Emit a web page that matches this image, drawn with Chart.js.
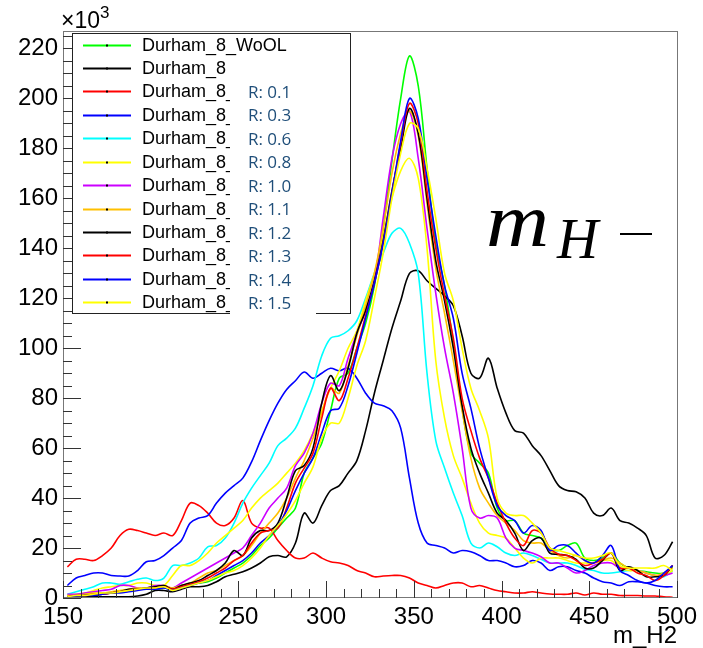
<!DOCTYPE html>
<html>
<head>
<meta charset="utf-8">
<script src="https://cdn.jsdelivr.net/npm/chart.js@4.4.0/dist/chart.umd.min.js"></script>
<style>
  html, body { margin: 0; padding: 0; background: #fff; }
  #wrap { width: 703px; height: 648px; }
</style>
</head>
<body>
<div id="wrap"><canvas id="chart" width="703" height="648"></canvas></div>
<script>
// bin centres of m_H2
const xBins = [152.5, 157.5, 162.5, 167.5, 172.5, 177.5, 182.5, 187.5, 192.5, 197.5,
  202.5, 207.5, 212.5, 217.5, 222.5, 227.5, 232.5, 237.5, 242.5, 247.5,
  252.5, 257.5, 262.5, 267.5, 272.5, 277.5, 282.5, 287.5, 292.5, 297.5,
  302.5, 307.5, 312.5, 317.5, 322.5, 327.5, 332.5, 337.5, 342.5, 347.5,
  352.5, 357.5, 362.5, 367.5, 372.5, 377.5, 382.5, 387.5, 392.5, 397.5,
  402.5, 407.5, 412.5, 417.5, 422.5, 427.5, 432.5, 437.5, 442.5, 447.5,
  452.5, 457.5, 462.5, 467.5, 472.5, 477.5, 482.5, 487.5, 492.5, 497.5];

const xTicks = [150, 200, 250, 300, 350, 400, 450, 500];
const yTicks = [0, 20, 40, 60, 80, 100, 120, 140, 160, 180, 200, 220];

const seriesNames = ["Durham_8_WoOL", "Durham_8", "Durham_8_", "Durham_8_", "Durham_8_", "Durham_8_",
  "Durham_8_", "Durham_8_", "Durham_8_", "Durham_8_", "Durham_8_", "Durham_8_"];
const seriesR = ["", "", "R: 0.1", "R: 0.3", "R: 0.6", "R: 0.8", "R: 1.0", "R: 1.1", "R: 1.2", "R: 1.3", "R: 1.4", "R: 1.5"];
const seriesColors = ["#00ff00", "#000000", "#ff0000", "#0000ff", "#00ffff", "#ffff00",
  "#cc00ff", "#ffc000", "#000000", "#ff0000", "#0000ff", "#ffff00"];

// values in units of 10^3
const wool = [1, 1, 1.5, 1.5, 2, 2, 2.5, 3, 3.5, 3.5,
  3.5, 4, 4, 5, 5.5, 6, 6.5, 8, 10, 12,
  14, 17, 21, 24, 28, 32, 36, 50, 56, 62,
  75, 88, 90, 100, 110, 125, 148, 175, 200, 217,
  205, 172, 142, 125, 102, 76, 58, 54, 50, 36,
  31, 31, 26, 25, 24, 20, 19, 21, 22, 16,
  15, 16, 18, 14, 12, 11, 10.5, 10, 10, 12.5];
const d8 = [0.5, 0.5, 0.5, 0.5, 0.5, 0.5, 0.5, 0.5, 0.8, 1.5,
  3, 3, 2.5, 3.5, 4.5, 4.5, 5, 6.5, 8.5, 9.5,
  10.5, 12, 14, 16.5, 17, 16.5, 22, 34, 30, 37,
  43, 45, 50, 55, 67, 82, 95, 108, 119, 130,
  131, 127, 124, 121, 117, 105, 90, 88, 96, 84,
  74, 67, 66, 61, 57, 51, 45, 43, 42.5, 40,
  34, 33, 36, 31, 30, 28, 25, 16, 17, 22.5];
const r01 = [12.5, 15.5, 15.5, 15, 17, 20, 25, 27.5, 27, 26,
  25, 26, 25, 31, 38, 37, 34, 30, 29, 32,
  39, 30, 28, 28, 23, 19, 16, 16, 18, 16,
  14.5, 14, 13, 11, 10, 8.5, 8.8, 9, 9, 8,
  6, 5, 4, 5, 6, 6, 4.5, 5, 4, 3,
  2.5, 2, 2, 2.5, 2, 1.6, 1.5, 1.5, 2, 1.2,
  2, 1.5, 1.5, 1, 1, 1, 0.8, 0.8, 0.5, 0.3];
const r03 = [5, 8, 9, 10, 10, 9, 8.8, 8.8, 11, 14.5,
  15, 17, 20, 23, 30, 32, 33, 38, 42, 45,
  48, 54.5, 63, 71, 78, 83.5, 87, 90.5, 88, 90,
  92, 91, 92, 88, 82, 78, 77, 75, 68, 48,
  30, 22, 21, 20, 18, 19, 18.5, 17, 15, 15,
  14, 12.5, 13, 15, 14, 11, 12.5, 12.5, 11, 10,
  8, 6.5, 6, 5, 6.5, 6.5, 6, 5, 4.5, 4.5];
const r06 = [1.5, 2.5, 3.5, 4.5, 6, 6, 5.5, 6.5, 7.5, 8,
  7, 8, 13, 13, 14, 16, 20.5, 21, 24, 30,
  38, 44, 49, 54, 61, 64, 68, 76, 85, 97,
  104, 105, 107, 111, 120, 130, 138, 146, 148, 142,
  130, 90, 63, 52, 42, 33, 22, 20, 22, 20.5,
  18, 17, 18, 17, 15.5, 14, 14, 14, 13, 11.5,
  11, 10, 10, 10.5, 11, 11, 10, 9, 8.5, 11];
const r08 = [1, 1.5, 2, 3, 4, 4.5, 5, 5, 6, 6,
  5, 5, 9, 13, 13, 15, 18, 22, 25, 28,
  31, 36, 40, 43, 46, 50, 54, 59, 66, 75,
  84, 91, 100, 107, 119, 130, 145, 160, 171, 176,
  168, 140, 95, 72, 57, 48, 38, 30, 26, 25,
  24, 20, 16, 14, 16, 16, 16, 15, 14, 14,
  14, 15, 15, 12, 11, 11, 10, 9, 9, 11];
const r10 = [1.5, 1.5, 2, 2.5, 3, 3.5, 5, 5, 4, 4,
  5, 5, 4, 6, 8, 10, 12, 14, 16, 18,
  20, 25, 30, 36, 40, 44, 53, 58, 66, 78,
  86, 85, 96, 106, 115, 127, 152, 176, 190, 195,
  176, 148, 122, 100, 82, 60, 36, 32, 33, 32,
  24, 20, 19, 18, 16.5, 14, 14, 12, 10, 11,
  13, 14, 14, 12, 12, 11, 10, 9, 9, 10];
const r11 = [1, 1, 1.5, 2, 2, 2.5, 3, 3.5, 4, 4,
  4.5, 5, 4, 5, 6, 8, 10, 11, 13, 15,
  17, 21, 26, 30, 34, 40, 48, 55, 64, 74,
  84, 82, 93, 105, 117, 130, 148, 170, 186, 195,
  185, 158, 132, 114, 95, 75, 56, 44, 38, 33,
  30, 27, 23, 22, 22, 19, 17, 16, 17, 15,
  14, 15, 16, 14, 12, 11, 10, 9, 10, 12];
const r12 = [0.5, 0.8, 1, 1, 1.5, 2, 2.5, 3.5, 3.5, 4,
  4.5, 5, 3.5, 5, 6, 7, 9, 11, 14, 19,
  17, 24, 27, 27, 30, 40, 51, 53, 60, 78,
  89, 83, 92, 106, 115, 127, 143, 163, 180, 196,
  186, 160, 135, 119, 100, 77, 60, 50, 42, 34,
  31, 26, 19, 23, 24, 18, 17.5, 17, 15.5, 12,
  12, 15, 18, 11, 12.5, 11, 8.5, 8.5, 9, 13];
const r13 = [0.5, 1, 1, 1.5, 1.5, 2, 2.5, 3, 3.5, 3.5,
  4, 4.5, 3.5, 4.5, 5.5, 6.5, 8, 10, 12, 15,
  17, 22, 26, 27, 28, 36, 46, 52, 58, 72,
  84, 79, 88, 100, 113, 126, 142, 162, 182, 198,
  190, 163, 140, 121, 104, 80, 67, 56, 48, 38,
  30, 24, 21, 27, 26, 20, 17.5, 17, 15, 13,
  14, 15.5, 18, 12, 12, 10, 9, 7, 9, 13];
const r14 = [0.5, 0.8, 1, 1, 1.5, 2, 2, 2.5, 3, 3.5,
  3.5, 4, 3, 4, 5, 6, 7, 9, 11, 13,
  15, 18, 22, 25, 29, 35, 43, 50, 56, 66,
  75, 76, 85, 98, 112, 126, 142, 162, 183, 200,
  192, 168, 145, 125, 112, 90, 76, 60, 48, 37,
  33, 31, 26, 29, 27, 19, 21, 21, 18, 15,
  14, 17, 21, 11, 9, 7, 6, 7, 10, 13];
const r15 = [0.5, 1, 1, 1.5, 2, 2, 2.5, 3, 3.5, 4,
  4, 4.5, 3, 4, 5, 6, 7, 8.5, 10, 11,
  13, 16, 20, 25, 29, 33.5, 39, 46, 52.5, 64,
  70, 70, 80, 93, 103, 120, 138, 160, 178, 190,
  188, 172, 152, 130, 119, 100, 84, 75, 64, 40,
  34, 33, 33, 30, 26, 20, 19, 18, 17, 16,
  16, 17, 18, 13, 12, 12, 12, 12, 13, 11];

const seriesValues = [wool, d8, r01, r03, r06, r08, r10, r11, r12, r13, r14, r15];

Chart.defaults.font.family = "'Liberation Sans', Arial, sans-serif";

const datasets = seriesValues.map(function (vals, i) {
  return {
    label: seriesNames[i] + (seriesR[i] ? " " + seriesR[i] : ""),
    data: xBins.map(function (x, k) { return { x: x, y: vals[k] }; }),
    borderColor: seriesColors[i],
    borderWidth: 1.6,
    pointRadius: 0,
    tension: 0.35,
    fill: false,
    order: seriesValues.length - i
  };
});

// ROOT-like frame, inward ticks, legend and labels
const rootDecor = {
  id: "rootDecor",
  afterDraw: function (chart) {
    const ctx = chart.ctx;
    const a = chart.chartArea;
    const xs = chart.scales.x, ys = chart.scales.y;
    ctx.save();

    // frame
    ctx.strokeStyle = "#777";
    ctx.lineWidth = 1;
    ctx.strokeRect(Math.round(a.left) + 0.5, Math.round(a.top) - 0.5,
      Math.round(a.right - a.left), Math.round(a.bottom - a.top));

    // ticks
    ctx.strokeStyle = "#333";
    ctx.beginPath();
    for (let v = 0; v <= 225; v += 5) {
      const py = Math.round(ys.getPixelForValue(v)) + 0.5;
      const len = v % 20 === 0 ? 18 : 9;
      ctx.moveTo(a.left, py); ctx.lineTo(a.left + len, py);
    }
    for (let v = 150; v <= 500; v += 10) {
      const px = Math.round(xs.getPixelForValue(v)) + 0.5;
      const len = v % 50 === 0 ? 17 : 9;
      ctx.moveTo(px, a.bottom); ctx.lineTo(px, a.bottom - len);
    }
    ctx.stroke();

    // x10^3
    ctx.fillStyle = "#000";
    ctx.textBaseline = "alphabetic";
    ctx.textAlign = "left";
    ctx.font = "23px 'Liberation Sans'";
    ctx.fillText("\u00d710", 61, 28);
    ctx.font = "17px 'Liberation Sans'";
    ctx.fillText("3", 100, 18);

    // axis title
    ctx.font = "24px 'Liberation Sans'";
    ctx.textAlign = "right";
    ctx.fillText("m_H2", a.right, 643);

    // legend box
    ctx.fillStyle = "#fff";
    ctx.fillRect(72, 33, 278, 280);
    ctx.strokeStyle = "#222";
    ctx.strokeRect(72.5, 33.5, 278, 280);
    ctx.textAlign = "left";
    ctx.textBaseline = "middle";
    ctx.font = "18px 'Liberation Sans'";
    seriesNames.forEach(function (name, i) {
      const cy = Math.round(44.5 + i * 23.43) + 0.5;
      ctx.strokeStyle = seriesColors[i];
      ctx.lineWidth = 2;
      ctx.beginPath(); ctx.moveTo(83, cy); ctx.lineTo(131, cy); ctx.stroke();
      ctx.fillStyle = "#000";
      ctx.fillRect(106, cy - 1, 2, 2);
      ctx.fillText(name, 142, cy + 1);
    });

    // R annotation box
    ctx.fillStyle = "#fff";
    ctx.fillRect(230, 79, 86, 240);
    ctx.fillStyle = "#1f4e79";
    ctx.font = "17px 'Open Sans'";
    seriesR.filter(function (r) { return r; }).forEach(function (r, j) {
      ctx.fillText(r, 248, 93 + j * 23.5);
    });

    // m_{H^-}
    ctx.fillStyle = "#000";
    ctx.textBaseline = "alphabetic";
    ctx.save();
    ctx.translate(486, 246);
    ctx.scale(1.15, 1);
    ctx.font = "italic 76px 'Liberation Serif'";
    ctx.fillText("m", 0, 0);
    ctx.restore();
    ctx.font = "italic 57px 'Liberation Serif'";
    ctx.fillText("H", 557, 258);
    ctx.fillRect(620, 233, 32, 2);

    ctx.restore();
  }
};

new Chart(document.getElementById("chart"), {
  type: "line",
  data: { datasets: datasets },
  options: {
    responsive: false,
    animation: false,
    devicePixelRatio: 1,
    layout: { padding: { left: 0, right: 26, top: 32, bottom: 0 } },
    plugins: { legend: { display: false }, tooltip: { enabled: false } },
    scales: {
      x: {
        type: "linear",
        min: 150,
        max: 500,
        grid: { display: false, drawTicks: false },
        border: { display: false },
        ticks: { color: "#000", font: { size: 24 }, padding: 5, maxRotation: 0, autoSkip: false },
        afterBuildTicks: function (s) { s.ticks = xTicks.map(function (v) { return { value: v }; }); },
        afterFit: function (s) { s.height = 50; }
      },
      y: {
        min: 0,
        max: 226.6,
        grid: { display: false, drawTicks: false },
        border: { display: false },
        ticks: { color: "#000", font: { size: 24 }, padding: 5, autoSkip: false },
        afterBuildTicks: function (s) { s.ticks = yTicks.map(function (v) { return { value: v }; }); },
        afterFit: function (s) { s.width = 63; }
      }
    }
  },
  plugins: [rootDecor]
});
</script>
</body>
</html>
